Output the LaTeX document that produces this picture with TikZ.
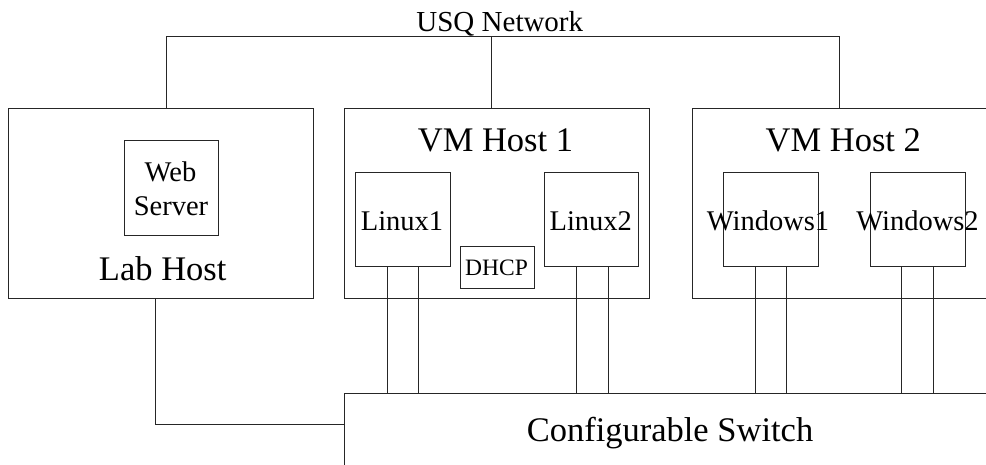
\documentclass[tikz,border=0pt]{standalone}
\usepackage{fontspec}
\setmainfont{Liberation Serif}
\begin{document}
\begin{tikzpicture}[x=1pt,y=-1pt,
  box/.style={draw=black!85,line width=1pt,rectangle,inner sep=0pt},
  wire/.style={draw=black!85,line width=1pt},
  big/.style={anchor=base,inner sep=0pt,font=\fontsize{34.5}{40}\selectfont},
  mid/.style={anchor=base,inner sep=0pt,font=\fontsize{28.5}{33}\selectfont},
  sml/.style={anchor=base,inner sep=0pt,font=\fontsize{23.5}{28}\selectfont}]
\clip (0,0) rectangle (986,464);
% boxes
\node[box,minimum width=305pt,minimum height=189.6pt] (lab) at (160.8,203.5) {};
\node[box,minimum width=94.7pt,minimum height=95.4pt] (web) at (171.35,188) {};
\node[box,minimum width=304.6pt,minimum height=189.6pt] (vm1) at (497,203.5) {};
\node[box,minimum width=305pt,minimum height=189.6pt] (vm2) at (844.5,203.5) {};
\node[box,minimum width=95pt,minimum height=94pt] (l1) at (403.2,219.3) {};
\node[box,minimum width=94.7pt,minimum height=94pt] (l2) at (591.35,219.3) {};
\node[box,minimum width=95pt,minimum height=94pt] (w1) at (770.8,219.3) {};
\node[box,minimum width=95pt,minimum height=94pt] (w2) at (917.5,219.3) {};
\node[box,minimum width=74.3pt,minimum height=42.7pt] (dhcp) at (497.2,267.35) {};
\node[box,minimum width=650pt,minimum height=73pt] (sw) at (669.7,429.5) {};
% texts
\node[mid,font=\fontsize{29}{34}\selectfont] (usq) at (499.8,31.5) {USQ Network};
\node[big] (t-vm1) at (495.5,151.7) {VM Host 1};
\node[big] (t-vm2) at (843.3,151.7) {VM Host 2};
\node[mid] (t-web1) at (170.5,181.7) {Web};
\node[mid] (t-web2) at (171,215) {Server};
\node[big] (t-lab) at (162.7,280.7) {Lab Host};
\node[mid] (t-l1) at (402,230) {Linux1};
\node[mid] (t-l2) at (590.8,230) {Linux2};
\node[mid] (t-w1) at (768,230) {Windows1};
\node[mid] (t-w2) at (917.5,230) {Windows2};
\node[sml] (t-dhcp) at (496.5,275) {DHCP};
\node[big] (t-sw) at (670,441.7) {Configurable Switch};
% network
\coordinate (netL) at (166.7,36);
\coordinate (netM) at (491.7,36);
\coordinate (netR) at (839,36);
\draw[wire] (lab.north -| netL) -- (netL) -- (netR) -- (vm2.north -| netR);
\draw[wire] (netM) -- (vm1.north -| netM);
% VM links to switch
\foreach \n/\a/\b in {l1/-15.9/15.1, l2/-14.6/16.7, w1/-15.8/15.5, w2/-15.8/15.8}{
  \draw[wire] ([xshift=\a pt]\n.south) -- ([xshift=\a pt]\n.south |- sw.north);
  \draw[wire] ([xshift=\b pt]\n.south) -- ([xshift=\b pt]\n.south |- sw.north);
}
% lab host to switch
\draw[wire] ([xshift=-5.8pt]lab.south) |- ([yshift=5.2pt]sw.west);
\end{tikzpicture}
\end{document}
